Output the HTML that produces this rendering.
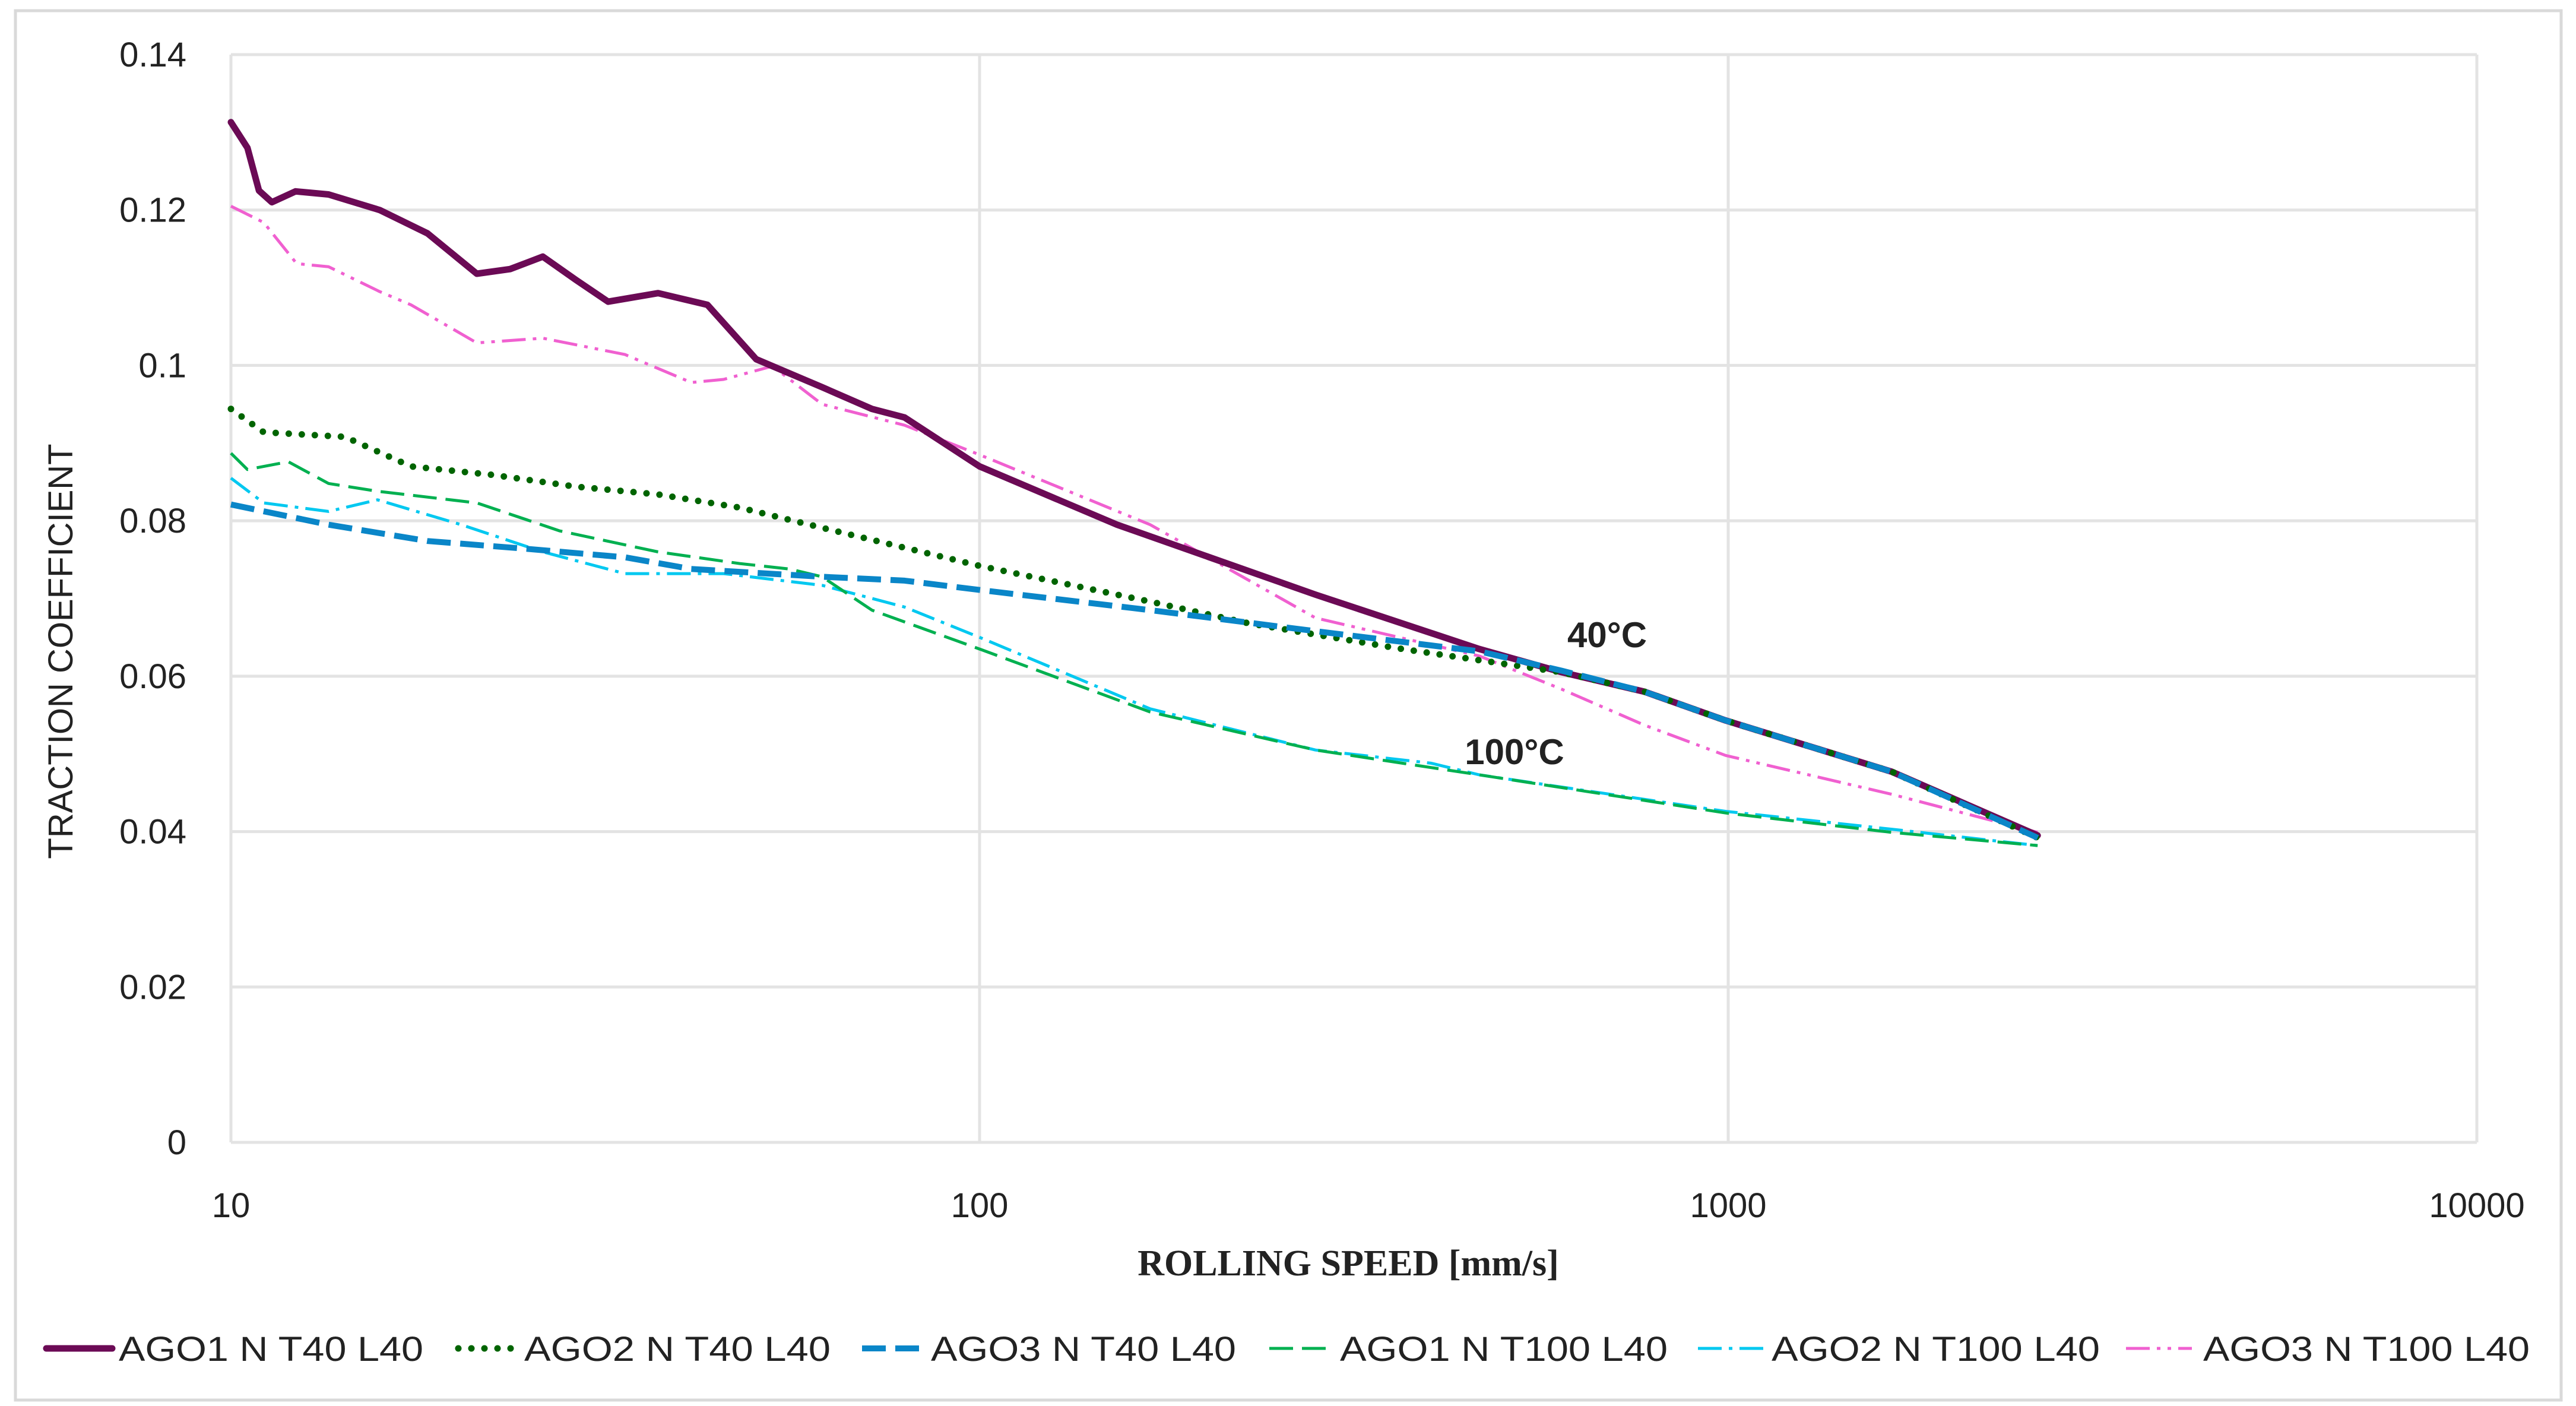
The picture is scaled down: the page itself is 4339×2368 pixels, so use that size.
<!DOCTYPE html>
<html><head><meta charset="utf-8"><style>
html,body{margin:0;padding:0;background:#fff;}
svg{display:block;}
text{font-family:"Liberation Sans",sans-serif;fill:#222;}
</style></head><body>
<svg id="chart" width="4339" height="2368" viewBox="0 0 4339 2368" xmlns="http://www.w3.org/2000/svg">
<rect x="26" y="18" width="4288" height="2340" fill="#fff" stroke="#d9d9d9" stroke-width="5"/>
<g id="grid"></g>
<g id="axes"></g>
<g id="series"></g>
<text x="2707" y="1090" font-size="60" font-weight="bold" text-anchor="middle">40°C</text>
<text x="2551" y="1287" font-size="60" font-weight="bold" text-anchor="middle">100°C</text>
<text x="2271" y="2148" font-size="62" font-weight="bold" text-anchor="middle" style="font-family:'Liberation Serif',serif">ROLLING SPEED [mm/s]</text>
<text transform="translate(122,1097) rotate(-90)" font-size="58" text-anchor="middle">TRACTION COEFFICIENT</text>
<g id="legend"></g>
</svg>
<script>
const yTicks=[0,0.02,0.04,0.06,0.08,0.1,0.12,0.14];
const yTickLabels=["0","0.02","0.04","0.06","0.08","0.1","0.12","0.14"];
const xTicks=[10,100,1000,10000];
const xTickLabels=["10","100","1000","10000"];
const seriesNames=["AGO1 N T40 L40","AGO2 N T40 L40","AGO3 N T40 L40","AGO1 N T100 L40","AGO2 N T100 L40","AGO3 N T100 L40"];
const s1x=[10,10.52,10.9,11.34,12.2,13.5,15.8,18.3,21.3,23.6,26.1,28.9,31.9,37.2,43.3,50.3,61.6,71.8,79.4,100,152.6,281,465,600,773,992,1654,2590];
const s1y=[0.1313,0.128,0.1225,0.121,0.1224,0.122,0.120,0.117,0.1118,0.1124,0.114,0.111,0.1082,0.1093,0.1078,0.1008,0.0972,0.0944,0.0933,0.087,0.0795,0.0705,0.0635,0.0605,0.058,0.0543,0.0477,0.0395];
const s2x=[10,11.06,14.2,17.4,22.4,28.9,37.2,47.8,61.6,100,169,229,361,600,773,992,1654,2590];
const s2y=[0.0944,0.0914,0.0908,0.087,0.0859,0.0844,0.0834,0.0817,0.0791,0.0742,0.0696,0.0668,0.0636,0.0605,0.058,0.0543,0.0477,0.0392];
const s3x=[10,13.5,18.3,24.8,33.6,41.2,61.6,79.4,100,169,281,465,600,773,992,1654,2590];
const s3y=[0.0821,0.0795,0.0774,0.0764,0.0753,0.0738,0.0728,0.0723,0.0711,0.0685,0.0658,0.0632,0.0607,0.058,0.0543,0.0477,0.0392];
const s4x=[10,10.52,11.93,13.5,15.7,21.3,27.5,37.2,47.8,55.7,61.6,71.8,100,169,281,465,992,1654,2590];
const s4y=[0.0887,0.0866,0.0876,0.0848,0.0838,0.0823,0.0787,0.076,0.0745,0.0738,0.0728,0.0685,0.0635,0.0554,0.0505,0.0473,0.0424,0.0399,0.0382];
const s5x=[10,11.06,13.5,15.7,20.3,26.1,33.6,45.5,61.6,79.4,100,169,281,401,465,992,1654,2590];
const s5y=[0.0855,0.0823,0.0812,0.0827,0.0795,0.076,0.0732,0.0732,0.0717,0.0689,0.065,0.0558,0.0505,0.0488,0.0473,0.0426,0.0403,0.0382];
const s6x=[10,11.06,12.24,13.5,15.8,17.4,21.3,26.1,33.6,41.2,45.5,52.9,61.6,79.4,100,169,281,465,600,773,992,1654,2590];
const s6y=[0.1205,0.1184,0.1131,0.1127,0.1095,0.1078,0.1029,0.1035,0.1014,0.0978,0.0982,0.0999,0.095,0.0923,0.0885,0.0795,0.0675,0.0626,0.0583,0.0537,0.0498,0.0448,0.0399];

const NS="http://www.w3.org/2000/svg";
const L=389,R=4172,T=92,B=1924;
function xs(v){return L+(Math.log10(v)-1)*(R-L)/3;}
function ys(v){return B-v/0.14*(B-T);}
function mk(tag,attrs,parent){const e=document.createElementNS(NS,tag);for(const k in attrs)e.setAttribute(k,attrs[k]);parent.appendChild(e);return e;}
const grid=document.getElementById('grid'),axes=document.getElementById('axes'),ser=document.getElementById('series'),leg=document.getElementById('legend');
yTicks.forEach((v,i)=>{
  const ln=mk('line',{x1:L,x2:R,y1:ys(v),y2:ys(v),stroke:'#e3e3e3','stroke-width':5},grid);
  
  
  const t=mk('text',{x:314,y:ys(v)+20,'font-size':58,'text-anchor':'end'},axes);
  t.textContent=yTickLabels[i];
  
  
});
xTicks.forEach((v,i)=>{
  const ln=mk('line',{x1:xs(v),x2:xs(v),y1:T,y2:B,stroke:'#e3e3e3','stroke-width':5},grid);
  
  
  const t=mk('text',{x:xs(v),y:2050,'font-size':58,'text-anchor':'middle'},axes);
  t.textContent=xTickLabels[i];
  
  
});
const styles=[
 {c:'#6b0a55',w:11,d:'',cap:'round'},
 {c:'#006400',w:11,d:'0 22',cap:'round'},
 {c:'#0a86c8',w:10,d:'40 16',cap:'butt'},
 {c:'#00b050',w:5,d:'40 15',cap:'butt'},
 {c:'#00c8f0',w:5,d:'40 12 6 12',cap:'butt'},
 {c:'#f060d0',w:5,d:'40 12 6 12 6 12',cap:'butt'}
];
const allX=[s1x,s2x,s3x,s4x,s5x,s6x],allY=[s1y,s2y,s3y,s4y,s5y,s6y];
const order=[5,4,3,0,1,2];
order.forEach(i=>{
  const pts=allX[i].map((x,j)=>xs(x).toFixed(1)+','+ys(allY[i][j]).toFixed(1)).join(' ');
  const s=styles[i];
  const p=mk('polyline',{points:pts,fill:'none',stroke:s.c,'stroke-width':s.w,'stroke-dasharray':s.d,'stroke-linecap':s.cap,'stroke-linejoin':'round'},ser);
  
  
});
const legSample=[[78,189],[772,866],[1452,1555],[2138,2243],[2860,2970],[3581,3692]];
const legText=[[200,513],[883,516],[1568,514],[2257,552],[2984,553],[3711,550]];
seriesNames.forEach((n,i)=>{
  const s=styles[i];
  const g=mk('g',{},leg);
  
  
  mk('line',{x1:legSample[i][0],x2:legSample[i][1],y1:2271,y2:2271,stroke:s.c,'stroke-width':s.w,'stroke-dasharray':s.d,'stroke-linecap':s.cap},g);
  const t=mk('text',{x:legText[i][0],y:2292,'font-size':58,textLength:legText[i][1],lengthAdjust:'spacingAndGlyphs'},g);
  t.textContent=n;
});
</script>
</body></html>
